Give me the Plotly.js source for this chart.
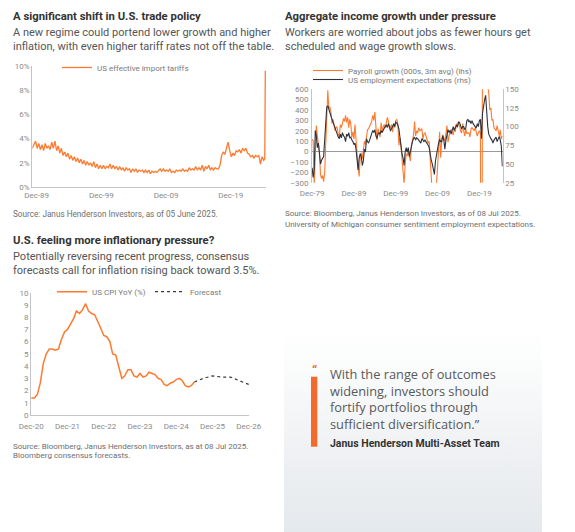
<!DOCTYPE html>
<html><head><meta charset="utf-8">
<script src="https://cdn.plot.ly/plotly-3.0.1.min.js"></script>
<style>
html,body{margin:0;padding:0;background:#fff;}
#wrap{position:relative;width:575px;height:532px;overflow:hidden;background:#fff;}
#quotebg{position:absolute;left:284px;top:330px;width:258px;height:202px;
background:linear-gradient(180deg,#ffffff 0%,#fafbfb 20%,#f0f2f4 55%,#e4e9ed 100%);}
#chart{position:absolute;left:0;top:0;width:575px;height:532px;}
</style></head>
<body><div id="wrap"><div id="quotebg"></div><div id="chart"></div></div>
<script>
// ---------- Chart 1: US effective import tariffs (%), quarterly from Apr-1989 ----------
const tariffValues = [
  3.2, 3.5, 3.8,
  3.2, 3.6, 3.1, 3.5,   // 1990
  3.0, 3.6, 3.2, 3.4,   // 1991
  3.1, 3.7, 3.2, 3.8,   // 1992
  3.0, 3.4, 2.8, 3.2,   // 1993
  2.6, 2.9, 2.5, 2.8,   // 1994
  2.3, 2.6, 2.2, 2.5,   // 1995
  2.1, 2.4, 2.0, 2.3,   // 1996
  1.9, 2.2, 1.8, 2.1,   // 1997
  1.8, 2.0, 1.7, 2.1,   // 1998
  1.6, 1.9, 1.5, 1.8,   // 1999
  1.5, 1.8, 1.5, 1.7,   // 2000
  1.6, 1.9, 1.5, 1.8,   // 2001
  1.5, 1.7, 1.4, 1.7,   // 2002
  1.4, 1.6, 1.3, 1.6,   // 2003
  1.4, 1.5, 1.2, 1.5,   // 2004
  1.3, 1.5, 1.2, 1.4,   // 2005
  1.3, 1.4, 1.2, 1.4,   // 2006
  1.2, 1.4, 1.1, 1.3,   // 2007
  1.2, 1.3, 1.2, 1.4,   // 2008
  1.5, 1.3, 1.5, 1.3,   // 2009
  1.4, 1.3, 1.5, 1.2,   // 2010
  1.3, 1.2, 1.4, 1.3,   // 2011
  1.4, 1.3, 1.5, 1.3,   // 2012
  1.4, 1.3, 1.6, 1.4,   // 2013
  1.5, 1.4, 1.7, 1.4,   // 2014
  1.6, 1.4, 1.8, 1.3,   // 2015
  1.7, 1.5, 1.8, 1.4,   // 2016
  1.6, 1.4, 1.6, 1.5,   // 2017
  1.5, 1.8, 2.6, 2.9,   // 2018
  2.7, 3.2, 3.7, 3.0,   // 2019
  2.5, 2.8, 2.6, 3.0,   // 2020
  2.9, 3.1, 2.8, 3.2,   // 2021
  3.0, 3.2, 2.8, 2.7,   // 2022
  2.5, 2.6, 2.4, 2.6,   // 2023
  2.5, 2.6, 1.9, 2.5    // 2024
];
const tariffTailDates = ['2025-01-01', '2025-03-01', '2025-04-01'];
const tariffTailValues = [2.2, 2.3, 9.6];
const tariffTickVals = ['1989-12-01', '1999-12-01', '2009-12-01', '2019-12-01'];
const tariffTickText = ['Dec-89', 'Dec-99', 'Dec-09', 'Dec-19'];

// ---------- Chart 2: payroll growth (lhs) & employment expectations (rhs), quarterly from Dec-1979 ----------
const payrollValues = [
  120,
  100, -330, 60, 250,      // 1980
  150, 80, 0, -220,        // 1981
  -260, -230, -290, -200,  // 1982
  120, 300, 590, 420,      // 1983
  430, 380, 270, 310,      // 1984
  260, 200, 240, 230,      // 1985
  170, 140, 260, 230,      // 1986
  270, 320, 290, 350,      // 1987
  280, 330, 230, 310,      // 1988
  270, 140, 190, 120,      // 1989
  260, 90, -60, -160,      // 1990
  -240, -60, -10, -70,     // 1991
  10, 100, 70, 130,        // 1992
  210, 220, 240, 270,      // 1993
  290, 350, 300, 380,      // 1994
  230, 110, 220, 180,      // 1995
  140, 280, 200, 240,      // 1996
  260, 230, 300, 330,      // 1997
  290, 220, 240, 260,      // 1998
  190, 270, 230, 300,      // 1999
  310, 270, 60, 130,       // 2000
  50, -60, -120, -310,     // 2001
  -130, -20, -40, 10,      // 2002
  -50, -90, 60, 100,       // 2003
  160, 290, 150, 200,      // 2004
  180, 230, 200, 210,      // 2005
  220, 120, 170, 180,      // 2006
  140, 110, 80, 100,       // 2007
  -40, -180, -260, -620,   // 2008
  -760, -480, -300, -180,  // 2009
  -20, 190, -60, 120,      // 2010
  160, 120, 100, 170,      // 2011
  250, 90, 170, 200,       // 2012
  210, 180, 160, 230,      // 2013
  190, 270, 230, 290,      // 2014
  220, 200, 180, 270,      // 2015
  200, 150, 220, 170,      // 2016
  180, 180, 140, 220,      // 2017
  230, 210, 200, 230,      // 2018
  180, 150, 180, 200,      // 2019
  180, -4400, 1400, 650,   // 2020
  620, 650, 700, 640,      // 2021
  560, 400, 420, 300,      // 2022
  310, 230, 220, 200,      // 2023
  250, 180, 150, 210,      // 2024
  120, 150                 // 2025
];
const employmentValues = [
  45,
  32, 42, 95, 88,      // 1980
  72, 78, 62, 50,      // 1981
  55, 58, 60, 82,      // 1982
  108, 126, 128, 122,  // 1983
  120, 114, 110, 106,  // 1984
  100, 96, 92, 90,     // 1985
  86, 84, 90, 85,      // 1986
  92, 88, 86, 80,      // 1987
  90, 87, 92, 85,      // 1988
  86, 82, 80, 76,      // 1989
  78, 70, 55, 42,      // 1990
  58, 64, 60, 48,      // 1991
  54, 70, 66, 84,      // 1992
  80, 78, 82, 86,      // 1993
  92, 95, 92, 96,      // 1994
  88, 84, 90, 92,      // 1995
  90, 95, 92, 96,      // 1996
  98, 100, 102, 99,    // 1997
  104, 100, 94, 98,    // 1998
  100, 104, 100, 106,  // 1999
  105, 102, 97, 86,    // 2000
  70, 64, 58, 48,      // 2001
  66, 72, 66, 72,      // 2002
  60, 68, 74, 80,      // 2003
  84, 86, 82, 85,      // 2004
  84, 82, 80, 78,      // 2005
  84, 82, 80, 82,      // 2006
  80, 78, 75, 72,      // 2007
  62, 55, 50, 42,      // 2008
  36, 54, 64, 70,      // 2009
  78, 83, 80, 80,      // 2010
  88, 82, 70, 82,      // 2011
  90, 96, 92, 95,      // 2012
  90, 96, 100, 95,     // 2013
  98, 102, 100, 106,   // 2014
  106, 102, 97, 100,   // 2015
  100, 96, 98, 108,    // 2016
  110, 106, 108, 104,  // 2017
  108, 104, 101, 100,  // 2018
  98, 104, 100, 108,   // 2019
  110, 84, 118, 130,   // 2020
  136, 142, 118, 100,  // 2021
  90, 86, 84, 82,      // 2022
  78, 82, 85, 86,      // 2023
  80, 84, 87, 82,      // 2024
  74, 47               // 2025
];
const jobsTickVals = ['1979-12-01', '1989-12-01', '1999-12-01', '2009-12-01', '2019-12-01'];
const jobsTickText = ['Dec-79', 'Dec-89', 'Dec-99', 'Dec-09', 'Dec-19'];

// ---------- Chart 3: US CPI YoY (%), monthly from Dec-2020, plus consensus forecast ----------
const cpiValues = [
  1.4,
  1.4, 1.7, 2.6, 4.2, 5.0, 5.4, 5.4, 5.3, 5.4, 6.2, 6.8, 7.0,   // 2021
  7.5, 7.9, 8.5, 8.3, 8.6, 9.1, 8.5, 8.3, 8.2, 7.7, 7.1, 6.5,   // 2022
  6.4, 6.0, 5.0, 4.9, 4.0, 3.0, 3.2, 3.7, 3.7, 3.2, 3.1, 3.4,   // 2023
  3.1, 3.2, 3.5, 3.4, 3.3, 3.0, 2.9, 2.5, 2.4, 2.6, 2.7, 2.9,   // 2024
  3.0, 2.8, 2.4, 2.3, 2.4, 2.7                                  // 2025
];
const forecastDates = ['2025-06-01', '2025-09-01', '2025-12-01', '2026-03-01', '2026-06-01', '2026-09-01', '2026-12-01'];
const forecastValues = [2.7, 3.0, 3.2, 3.1, 3.1, 2.8, 2.5];
const cpiTickVals = ['2020-12-01', '2021-12-01', '2022-12-01', '2023-12-01', '2024-12-01', '2025-12-01', '2026-12-01'];
const cpiTickText = ['Dec-20', 'Dec-21', 'Dec-22', 'Dec-23', 'Dec-24', 'Dec-25', 'Dec-26'];

// ---------- quote ----------
const quoteLines = ['With the range of outcomes', 'widening, investors should', 'fortify portfolios through', 'sufficient diversification.\u201D'];
const quoteAuthor = 'Janus Henderson Multi-Asset Team';

// ---------- helpers ----------
function monthSeries(startYear, startMonth, stepMonths, n) {
  const out = []; let y = startYear, m = startMonth;
  for (let i = 0; i < n; i++) {
    out.push(y + '-' + String(m).padStart(2, '0') + '-01');
    m += stepMonths; while (m > 12) { m -= 12; y++; }
  }
  return out;
}
const W = 575, H = 532;
const px = x => x / W;
const py = y => 1 - y / H;

const ORANGE = '#FF7A2F';
const DARK = '#2E323B';
const AXIS = '#c4c4c4';
const TICK = { family: 'Roboto, sans-serif', size: 8, color: '#8a8a8a' };
const FONT = 'Roboto, sans-serif';

const tariffDates = monthSeries(1989, 4, 3, tariffValues.length).concat(tariffTailDates);
const tariffAll = tariffValues.concat(tariffTailValues);
const jobsDates = monthSeries(1979, 12, 3, payrollValues.length);
const cpiDates = monthSeries(2020, 12, 1, cpiValues.length);

const traces = [
  { type: 'scatter', mode: 'lines', x: tariffDates, y: tariffAll, xaxis: 'x', yaxis: 'y',
    name: 'US effective import tariffs', legend: 'legend', line: { color: ORANGE, width: 1.3 } },
  { type: 'scatter', mode: 'lines', x: jobsDates, y: payrollValues, xaxis: 'x2', yaxis: 'y2',
    name: 'Payroll growth (000s, 3m avg) (lhs)', legend: 'legend2', line: { color: ORANGE, width: 1.1 } },
  { type: 'scatter', mode: 'lines', x: jobsDates, y: employmentValues, xaxis: 'x2', yaxis: 'y3',
    name: 'US employment expectations (rhs)', legend: 'legend3', line: { color: DARK, width: 1.1 } },
  { type: 'scatter', mode: 'lines', x: cpiDates, y: cpiValues, xaxis: 'x3', yaxis: 'y4',
    name: 'US CPI YoY (%)', legend: 'legend4', line: { color: ORANGE, width: 1.5 } },
  { type: 'scatter', mode: 'lines', x: forecastDates, y: forecastValues, xaxis: 'x3', yaxis: 'y4',
    name: 'Forecast', legend: 'legend5', line: { color: '#3a3a3a', width: 1.2, dash: 'dot' } }
];

function leg(textX, y) {
  return { x: px(textX - 40), y: py(y), xanchor: 'left', yanchor: 'middle', bgcolor: 'rgba(0,0,0,0)',
           font: { family: FONT, size: 8, color: '#7a7a7a' }, orientation: 'h', borderwidth: 0 };
}
function ann(x, y, text, size, color, family) {
  return { xref: 'paper', yref: 'paper', x: px(x), y: py(y), xanchor: 'left', yanchor: 'middle',
    showarrow: false, align: 'left', text: text, font: { family: family || FONT, size: size, color: color } };
}
const QFONT = 'Open Sans, sans-serif';
const TS = 11.3, SS = 11, SRC = 8.2;
const annotations = [
  ann(11, 17, '<b>A significant shift in U.S. trade policy</b>', TS, '#333333'),
  ann(11, 32.5, 'A new regime could portend lower growth and higher', SS, '#555555'),
  ann(11, 46.5, 'inflation, with even higher tariff rates not off the table.', SS, '#555555'),
  ann(11, 213.5, 'Source: Janus Henderson Investors, as of 05 June 2025.', SRC, '#6e6e6e'),

  ann(283, 17, '<b>Aggregate income growth under pressure</b>', TS, '#333333'),
  ann(283, 32.5, 'Workers are worried about jobs as fewer hours get', SS, '#555555'),
  ann(283, 46.5, 'scheduled and wage growth slows.', SS, '#555555'),
  ann(283, 213.5, 'Source: Bloomberg, Janus Henderson Investors, as of 08 Jul 2025.', 8, '#6e6e6e'),
  ann(283, 224.5, 'University of Michigan consumer sentiment employment expectations.', 8, '#6e6e6e'),

  ann(11, 241, '<b>U.S. feeling more inflationary pressure?</b>', TS, '#333333'),
  ann(11, 256, 'Potentially reversing recent progress, consensus', SS, '#555555'),
  ann(11, 270, 'forecasts call for inflation rising back toward 3.5%.', SS, '#555555'),
  ann(11, 446.5, 'Source: Bloomberg, Janus Henderson Investors, as at 08 Jul 2025.', 8, '#6e6e6e'),
  ann(11, 455.5, 'Bloomberg consensus forecasts.', 8, '#6e6e6e'),

  ann(310, 370, '<b>\u201C</b>', 13, '#F26A2C'),
  ann(328, 398.5, quoteLines.join('<br>'), 12.8, '#58595b', QFONT),
  ann(328, 443.5, '<b>' + quoteAuthor + '</b>', 10.5, '#333333')
];

const layout = {
  width: W, height: H, margin: { l: 0, r: 0, t: 0, b: 0 },
  paper_bgcolor: 'rgba(0,0,0,0)', plot_bgcolor: 'rgba(0,0,0,0)',
  font: { family: FONT, color: '#555' }, hovermode: false, showlegend: true,
  legend: leg(97, 67.5), legend2: leg(348, 70.5), legend3: leg(348, 79.5),
  legend4: leg(92, 291.7), legend5: leg(190, 291.7),

  xaxis: { domain: [px(32.3), px(266)], anchor: 'y', type: 'date', range: ['1989-04-01', '2025-05-10'],
    tickvals: tariffTickVals, ticktext: tariffTickText, tickfont: TICK, showgrid: false, zeroline: false,
    showline: true, linecolor: AXIS, linewidth: 1, ticks: '' },
  yaxis: { domain: [py(187), py(66)], anchor: 'x', range: [0, 10], dtick: 2, ticksuffix: '%', tickfont: TICK,
    showgrid: false, zeroline: false, showline: true, linecolor: AXIS, linewidth: 1, ticks: '' },

  xaxis2: { domain: [px(312), px(502.7)], anchor: 'y2', type: 'date', range: ['1979-11-20', '2025-07-01'],
    tickvals: jobsTickVals, ticktext: jobsTickText, tickfont: TICK, showgrid: false, zeroline: false,
    showline: false, ticks: '', ticklabelstandoff: 4 },
  yaxis2: { domain: [py(182.7), py(89.3)], anchor: 'x2', range: [-300, 600], dtick: 100, tickfont: TICK,
    showgrid: false, zeroline: true, zerolinecolor: '#9a9a9a', zerolinewidth: 1,
    showline: true, linecolor: AXIS, linewidth: 1, ticks: '', ticklabelstandoff: 1 },
  yaxis3: { overlaying: 'y2', side: 'right', anchor: 'x2', range: [25, 150], dtick: 25, tickfont: TICK,
    showgrid: false, zeroline: false, showline: true, linecolor: AXIS, linewidth: 1, ticks: '' },

  xaxis3: { domain: [px(31), px(249)], anchor: 'y4', type: 'date', range: ['2020-11-28', '2026-12-04'],
    tickvals: cpiTickVals, ticktext: cpiTickText, tickfont: TICK, showgrid: false, zeroline: false,
    showline: true, linecolor: AXIS, linewidth: 1, ticks: '', ticklabelstandoff: 3 },
  yaxis4: { domain: [py(415), py(292.7)], anchor: 'x3', range: [0, 10], dtick: 1, tickfont: TICK,
    showgrid: false, zeroline: false, showline: true, linecolor: AXIS, linewidth: 1, ticks: '' },

  annotations: annotations,
  shapes: [
    { type: 'rect', xref: 'paper', yref: 'paper', x0: px(311), x1: px(317.3), y0: py(446.7), y1: py(376.7),
      fillcolor: '#F26A2C', line: { width: 0 } }
  ]
};

Plotly.newPlot('chart', traces, layout, { staticPlot: true, displayModeBar: false });
</script>
</body></html>
